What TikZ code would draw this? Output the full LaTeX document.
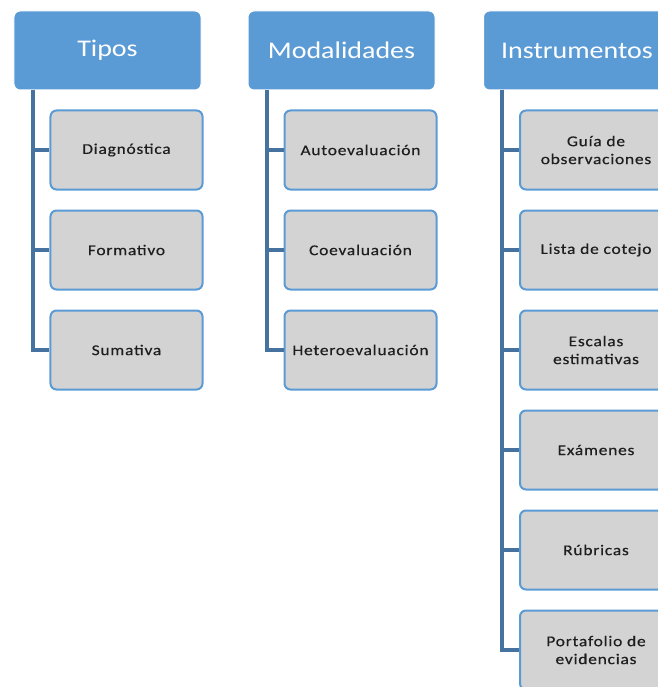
\documentclass[tikz,border=0pt]{standalone}
\usepackage{fontspec}
\setmainfont{Carlito}[FakeStretch=1.17]
\newfontfamily\childfont{Carlito}[FakeStretch=1.17,LetterSpace=5,FakeBold=0.4]
\definecolor{hdrblue}{HTML}{5B9BD5}
\definecolor{boxgray}{HTML}{D3D3D3}
\definecolor{connblue}{HTML}{46729F}
\definecolor{txtgray}{HTML}{1E1E1E}
\begin{document}
\begin{tikzpicture}[x=1bp,y=-1bp,
  header/.style={draw=white,line width=1bp,fill=hdrblue,rounded corners=6bp,
    minimum width=187bp,minimum height=79bp,inner sep=0pt,text=white,
    font=\fontsize{24}{28}\selectfont},
  child/.style={draw=hdrblue,line width=2bp,fill=boxgray,rounded corners=6bp,
    minimum width=152bp,minimum height=79bp,inner sep=0pt,text=txtgray,
    align=center,font=\childfont\fontsize{15}{18}\selectfont},
  conn/.style={draw=connblue,line width=3.5bp}]
\useasboundingbox (0,0) rectangle (658,687);
% connectors (drawn first, behind the boxes)
\coordinate (tc) at (33,90);
\coordinate (mc) at (267,90);
\coordinate (ic) at (502,90);
% headers
\node[header] (tipos) at (107.5,50.5) {Tipos};
\node[header] (moda) at (341.5,50.5) {Modalidades};
\node[header] (inst) at (577,50.5) {Instrumentos};
% Tipos children
\node[child] (t1) at (126.5,150) {Diagnóstica};
\node[child] (t2) at (126.5,250) {Formativo};
\node[child] (t3) at (126.5,350) {Sumativa};
% Modalidades children
\node[child] (m1) at (360.5,150) {Autoevaluación};
\node[child] (m2) at (360.5,250) {Coevaluación};
\node[child] (m3) at (360.5,350) {Heteroevaluación};
% Instrumentos children
\node[child] (i1) at (596,150) {Guía de\\observaciones};
\node[child] (i2) at (596,250) {Lista de cotejo};
\node[child] (i3) at (596,350) {Escalas\\estimativas};
\node[child] (i4) at (596,450) {Exámenes};
\node[child] (i5) at (596,550) {Rúbricas};
\node[child] (i6) at (596,650) {Portafolio de\\evidencias};
\foreach \c in {t1,t2,t3} \draw[conn] (tc) |- (\c.west);
\foreach \c in {m1,m2,m3} \draw[conn] (mc) |- (\c.west);
\foreach \c in {i1,i2,i3,i4,i5,i6} \draw[conn] (ic) |- (\c.west);
\end{tikzpicture}
\end{document}
